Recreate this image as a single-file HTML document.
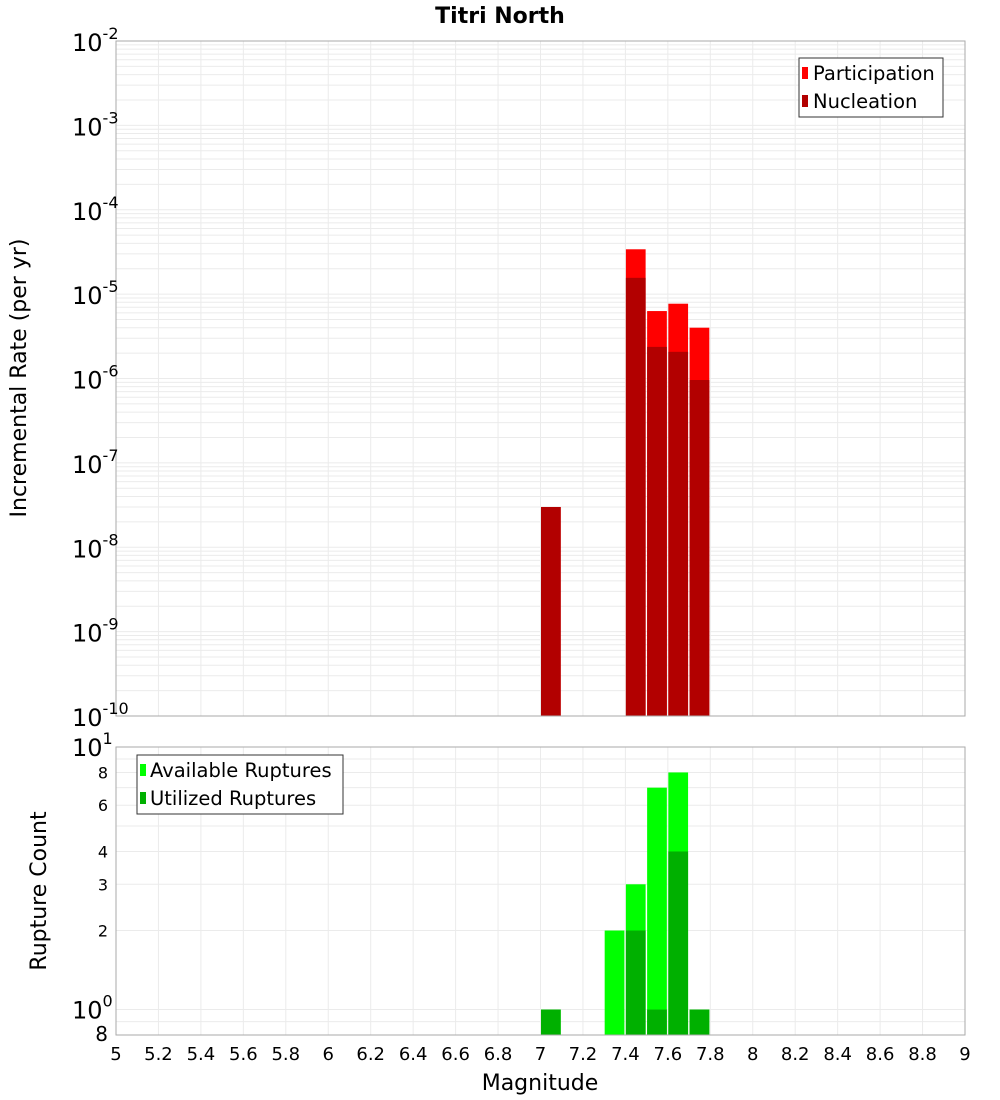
<!DOCTYPE html>
<html><head><meta charset="utf-8">
<style>
html,body{margin:0;padding:0;background:#fff;}
svg{display:block;font-family:"DejaVu Sans","Liberation Sans",sans-serif;}
</style></head>
<body>
<svg id="chart" width="1000" height="1100" viewBox="0 0 1000 1100" xmlns="http://www.w3.org/2000/svg">
<text x="500" y="23" text-anchor="middle" font-size="22" font-weight="bold">Titri North</text>
<text transform="translate(26,378) rotate(-90)" text-anchor="middle" font-size="22">Incremental Rate (per yr)</text>
<text transform="translate(46,891) rotate(-90)" text-anchor="middle" font-size="22">Rupture Count</text>
<text x="540" y="1090" text-anchor="middle" font-size="22">Magnitude</text>
<g id="topg"></g>
<g id="botg"></g>
<g>
<rect x="799" y="58" width="144" height="59" fill="#fff" stroke="#333" stroke-width="1"/>
<rect x="802" y="67" width="6" height="12" fill="#ff0000"/>
<text x="813" y="80" font-size="19.5">Participation</text>
<rect x="802" y="95" width="6" height="12" fill="#b20000"/>
<text x="813" y="108" font-size="19.5">Nucleation</text>
</g>
<g>
<rect x="137" y="755" width="206" height="59" fill="#fff" stroke="#333" stroke-width="1"/>
<rect x="140" y="764" width="6" height="12" fill="#00ff00"/>
<text x="150" y="777" font-size="19.5">Available Ruptures</text>
<rect x="140" y="792" width="6" height="12" fill="#00b000"/>
<text x="150" y="805" font-size="19.5">Utilized Ruptures</text>
</g>
</svg>
<script>
const mags = [7.0, 7.4, 7.5, 7.6, 7.7];
const participation = [3.0e-8, 3.4e-5, 6.3e-6, 7.7e-6, 4.0e-6];
const nucleation = [3.0e-8, 1.56e-5, 2.37e-6, 2.07e-6, 9.6e-7];
const countMags = [7.0, 7.3, 7.4, 7.5, 7.6, 7.7];
const available = [1, 2, 3, 7, 8, 1];
const utilized = [1, 0, 2, 1, 4, 1];
const xTicks = [5,5.2,5.4,5.6,5.8,6,6.2,6.4,6.6,6.8,7,7.2,7.4,7.6,7.8,8,8.2,8.4,8.6,8.8,9];
const topExps = [-2,-3,-4,-5,-6,-7,-8,-9,-10];

const NS='http://www.w3.org/2000/svg';
const X0=116,X1=965;
const xS=m=>X0+(m-5)/4*(X1-X0);
const TY0=41,TY1=716;
const yTop=v=>TY0+(-2-Math.log10(v))/8*(TY1-TY0);
const BY0=747,BY1=1035,BLmin=Math.log10(0.8),BLmax=1;
const yBot=v=>BY0+(BLmax-Math.log10(v))/(BLmax-BLmin)*(BY1-BY0);
function mk(p,t,a,txt){const e=document.createElementNS(NS,t);for(const k in a)e.setAttribute(k,a[k]);if(txt!==undefined)e.textContent=txt;p.appendChild(e);return e;}
const topG=document.getElementById('topg'),botG=document.getElementById('botg');

for(let d=-10;d<-2;d++){for(let k=1;k<10;k++){const y=yTop(k*Math.pow(10,d));const l=mk(topG,'line',{x1:X0,x2:X1,y1:y,y2:y,stroke:'#ebebeb','stroke-width':1});

}}
xTicks.forEach(t=>{const l=mk(topG,'line',{x1:xS(t),x2:xS(t),y1:TY0,y2:TY1,stroke:'#ebebeb'});

});
const bw=(xS(5.1)-xS(5))-1.5;
mags.forEach((m,i)=>{
 const r=mk(topG,'rect',{x:xS(m)+0.5,y:yTop(participation[i]),width:bw,height:TY1-yTop(participation[i]),fill:'#ff0000'});
 
 
 const n=mk(topG,'rect',{x:xS(m)+0.5,y:yTop(nucleation[i]),width:bw,height:TY1-yTop(nucleation[i]),fill:'#b20000'});
 
 
});
mk(topG,'rect',{x:X0,y:TY0,width:X1-X0,height:TY1-TY0,fill:'none',stroke:'#aaa'});
topExps.forEach(e=>{const y=yTop(Math.pow(10,e));const t=mk(topG,'text',{x:72,y:y+10,'font-size':24});
 
 
 t.textContent='10';mk(t,'tspan',{dy:-12,'font-size':16},String(e));});

const bgrid=[0.9,1,2,3,4,5,6,7,8,9];
bgrid.forEach(v=>{const y=yBot(v);const l=mk(botG,'line',{x1:X0,x2:X1,y1:y,y2:y,stroke:'#ebebeb'});

});
xTicks.forEach(t=>{const l=mk(botG,'line',{x1:xS(t),x2:xS(t),y1:BY0,y2:BY1,stroke:'#ebebeb'});

});
countMags.forEach((m,i)=>{
 if(available[i]>0){const r=mk(botG,'rect',{x:xS(m)+0.5,y:yBot(available[i]),width:bw,height:BY1-yBot(available[i]),fill:'#00ff00'});
 
 }
 if(utilized[i]>0){const r=mk(botG,'rect',{x:xS(m)+0.5,y:yBot(utilized[i]),width:bw,height:BY1-yBot(utilized[i]),fill:'#00b000'});
 
 }
});
mk(botG,'rect',{x:X0,y:BY0,width:X1-X0,height:BY1-BY0,fill:'none',stroke:'#aaa'});
[[10,'1'],[1,'0']].forEach(([v,e])=>{const y=yBot(v);const t=mk(botG,'text',{x:72,y:y+9,'font-size':24});
 
 
 t.textContent='10';mk(t,'tspan',{dy:-12,'font-size':16},e);});
[8,6,4,3,2].forEach(v=>{const t=mk(botG,'text',{x:108,y:yBot(v)+6,'font-size':16,'text-anchor':'end'},String(v));
 
 });
{const t=mk(botG,'text',{x:108,y:1041,'font-size':20,'text-anchor':'end'},'8');
 
 }
xTicks.forEach(tv=>{const t=mk(botG,'text',{x:xS(tv),y:1060,'font-size':18,'text-anchor':'middle'},String(tv));
 
 });
</script>
</body></html>
